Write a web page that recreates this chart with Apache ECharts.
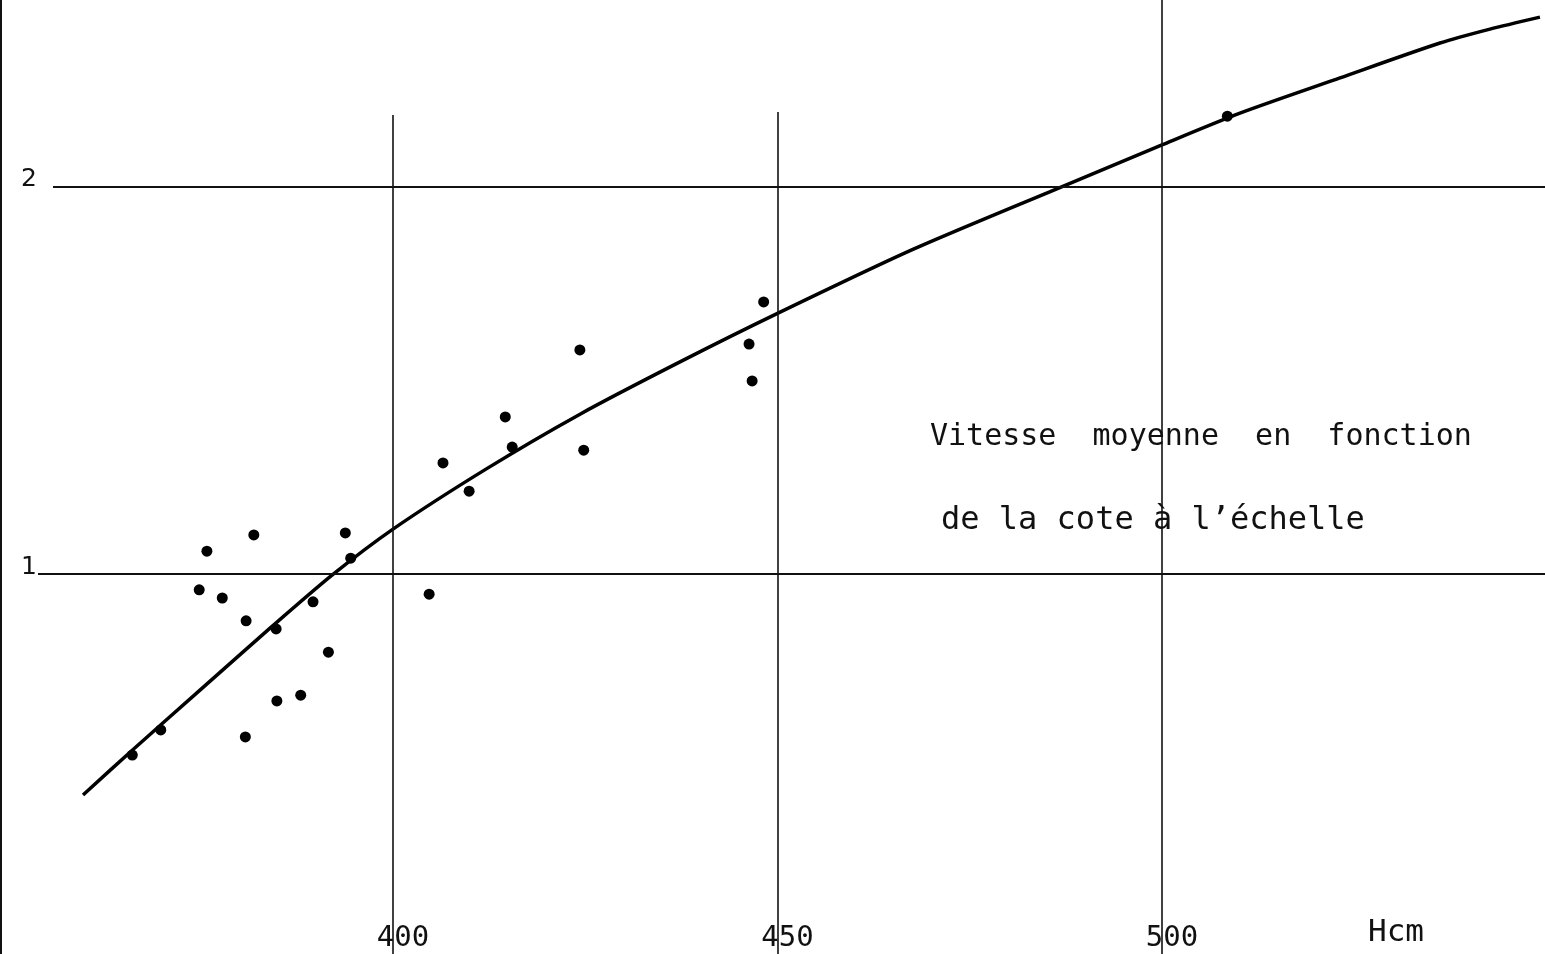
<!DOCTYPE html>
<html>
<head>
<meta charset="utf-8">
<script src="https://cdn.jsdelivr.net/npm/echarts@6/dist/echarts.min.js"></script>
<style>
html,body{margin:0;padding:0;background:#fff;}
#chart{width:1545px;height:954px;}
</style>
</head>
<body>
<div id="chart"></div>
<script>
// ---- data ----
const curveX = [359.69, 366.06, 374.90, 384.01, 392.07, 400.0, 412.09, 424.32, 437.32, 450.07, 467.75, 487.26, 500.0, 510.14, 523.15, 536.15, 542.65, 549.15];
const curveY = [0.429, 0.544, 0.700, 0.860, 0.997, 1.116, 1.271, 1.413, 1.548, 1.674, 1.840, 2.003, 2.109, 2.191, 2.282, 2.372, 2.408, 2.439];

const pointsX = [366.1, 369.8, 374.8, 375.8, 377.8, 380.9, 380.8, 381.9, 384.8, 384.9, 388.0, 389.6, 391.6, 393.8, 394.5, 404.7, 406.5, 409.9, 414.6, 415.5, 424.3, 424.8, 446.3, 446.7, 448.2, 508.5];
const pointsY = [0.532, 0.597, 0.959, 1.059, 0.938, 0.879, 0.579, 1.101, 0.858, 0.672, 0.687, 0.928, 0.798, 1.106, 1.041, 0.948, 1.287, 1.214, 1.406, 1.328, 1.579, 1.320, 1.594, 1.499, 1.703, 2.183];

const xTickLabels = [400, 450, 500];
const yTickLabels = [1, 2];
const vLinesX = [400, 450, 500];
const vLinesTop = [2.186, 2.194, 2.483];
const hLinesY = [1, 2];
const hLinesStart = [353.84, 355.79];

const xRange = [348.895, 549.805];
const yRange = [0.0181, 2.4832];

const titleLine1 = 'Vitesse  moyenne  en  fonction';
const titleLine2 = 'de la cote à l\u2019échelle';
const xUnit = 'Hcm';

// ---- build ----
const curveData = curveX.map((x, i) => [x, curveY[i]]);
const pointData = pointsX.map((x, i) => [x, pointsY[i]]);
const gridLines = [];
vLinesX.forEach((x, i) => gridLines.push([
  {coord: [x, yRange[0]], lineStyle: {width: 1.6}},
  {coord: [x, vLinesTop[i]]}
]));
hLinesY.forEach((y, i) => gridLines.push([
  {coord: [hLinesStart[i], y], lineStyle: {width: 2}},
  {coord: [xRange[1], y]}
]));

const FONT = 'DejaVu Sans Mono';
const chart = echarts.init(document.getElementById('chart'), null, {renderer: 'canvas'});
chart.setOption({
  animation: false,
  backgroundColor: '#ffffff',
  grid: {left: 0, right: 0, top: 0, bottom: 0, containLabel: false},
  xAxis: {
    type: 'value', min: xRange[0], max: xRange[1],
    axisLine: {show: false}, axisTick: {show: false}, splitLine: {show: false},
    axisLabel: {
      customValues: xTickLabels,
      inside: true, margin: 1, color: '#111', fontFamily: FONT, fontSize: 29,
      padding: [0, 0, 0, 20],
      formatter: v => xTickLabels.includes(v) ? String(v) : ''
    }
  },
  yAxis: {
    type: 'value', min: yRange[0], max: yRange[1],
    axisLine: {show: true, lineStyle: {color: '#111', width: 3}},
    axisTick: {show: false}, splitLine: {show: false},
    axisLabel: {
      customValues: yTickLabels,
      inside: true, margin: 21, color: '#111', fontFamily: 'DejaVu Sans', fontSize: 25,
      verticalAlign: 'bottom', lineHeight: 14,
      formatter: v => yTickLabels.includes(v) ? String(v) : ''
    }
  },
  graphic: [
    {type: 'text', left: 930, top: 422, style: {text: titleLine1, font: '30px "DejaVu Sans Mono"', fill: '#111'}},
    {type: 'text', left: 941, top: 505, style: {text: titleLine2, font: '32px "DejaVu Sans Mono"', fill: '#111'}},
    {type: 'text', left: 1368, top: 917, style: {text: xUnit, font: '31px "DejaVu Sans Mono"', fill: '#111'}}
  ],
  series: [
    {
      type: 'line', data: [], silent: true,
      markLine: {
        silent: true, symbol: ['none', 'none'], animation: false,
        label: {show: false},
        lineStyle: {color: '#111', width: 1.6, type: 'solid'},
        data: gridLines
      }
    },
    {
      type: 'line', data: curveData, smooth: 0.25, showSymbol: false, symbol: 'none',
      lineStyle: {color: '#000', width: 3.5}
    },
    {
      type: 'scatter', data: pointData, symbol: 'circle', symbolSize: 11,
      itemStyle: {color: '#000', opacity: 1}
    }
  ]
});
</script>
</body>
</html>
